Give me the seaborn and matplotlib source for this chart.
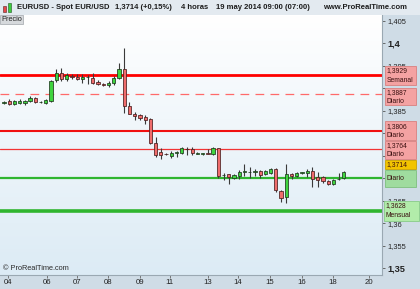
import numpy as np
import pandas as pd
import matplotlib
matplotlib.use("Agg")
import matplotlib.pyplot as plt
import seaborn as sns
from matplotlib.patches import Rectangle
from matplotlib.transforms import blended_transform_factory
from matplotlib.colors import LinearSegmentedColormap

# ---------------- data (4h candles EUR/USD) ----------------
opens = [1.3868, 1.3872, 1.3865, 1.3868, 1.3867, 1.3872, 1.3878, 1.3869, 1.3868, 1.3872,
         1.3918, 1.3933, 1.3920, 1.3927, 1.3926, 1.3920, 1.3925, 1.3924, 1.3914, 1.3910,
         1.3907, 1.3911, 1.3924, 1.3942, 1.3861, 1.3844, 1.3840, 1.3837, 1.3831, 1.3779,
         1.3759, 1.3754, 1.3750, 1.3757, 1.3756, 1.3766, 1.3764, 1.3755, 1.3754, 1.3756,
         1.3754, 1.3767, 1.3707, 1.3709, 1.3700, 1.3705, 1.3715, 1.3713, 1.3714, 1.3716,
         1.3710, 1.3712, 1.3720, 1.3671, 1.3659, 1.3709, 1.3704, 1.3712, 1.3711, 1.3716,
         1.3702, 1.3702, 1.3694, 1.3688, 1.3698, 1.3700]
highs = [1.3872, 1.3876, 1.3875, 1.3876, 1.3875, 1.3884, 1.3881, 1.3872, 1.3877, 1.3918,
         1.3943, 1.3945, 1.3934, 1.3932, 1.3931, 1.3932, 1.3930, 1.3935, 1.3918, 1.3911,
         1.3916, 1.3927, 1.3957, 1.3989, 1.3869, 1.3848, 1.3843, 1.3841, 1.3834, 1.3791,
         1.3767, 1.3756, 1.3760, 1.3760, 1.3770, 1.3770, 1.3769, 1.3758, 1.3756, 1.3764,
         1.3769, 1.3767, 1.3711, 1.3710, 1.3710, 1.3718, 1.3732, 1.3724, 1.3720, 1.3718,
         1.3718, 1.3723, 1.3722, 1.3674, 1.3732, 1.3711, 1.3714, 1.3714, 1.3720, 1.3724,
         1.3715, 1.3704, 1.3696, 1.3698, 1.3711, 1.3716]
lows = [1.3866, 1.3862, 1.3862, 1.3865, 1.3864, 1.3869, 1.3868, 1.3868, 1.3866, 1.3870,
        1.3914, 1.3916, 1.3916, 1.3921, 1.3918, 1.3912, 1.3910, 1.3910, 1.3907, 1.3906,
        1.3903, 1.3907, 1.3921, 1.3846, 1.3843, 1.3830, 1.3830, 1.3821, 1.3776, 1.3748,
        1.3742, 1.3751, 1.3746, 1.3747, 1.3753, 1.3752, 1.3752, 1.3753, 1.3752, 1.3753,
        1.3751, 1.3700, 1.3696, 1.3687, 1.3698, 1.3698, 1.3704, 1.3700, 1.3704, 1.3700,
        1.3707, 1.3710, 1.3670, 1.3648, 1.3646, 1.3698, 1.3702, 1.3709, 1.3703, 1.3681,
        1.3681, 1.3690, 1.3686, 1.3686, 1.3697, 1.3698]
closes = [1.3869, 1.3866, 1.3871, 1.3872, 1.3872, 1.3879, 1.3870, 1.3870, 1.3874, 1.3917,
          1.3934, 1.3920, 1.3929, 1.3926, 1.3921, 1.3926, 1.3925, 1.3912, 1.3910, 1.3908,
          1.3912, 1.3922, 1.3944, 1.3861, 1.3844, 1.3838, 1.3833, 1.3830, 1.3779, 1.3752,
          1.3752, 1.3753, 1.3757, 1.3757, 1.3767, 1.3764, 1.3756, 1.3756, 1.3754, 1.3755,
          1.3767, 1.3705, 1.3707, 1.3702, 1.3707, 1.3715, 1.3715, 1.3714, 1.3715, 1.3707,
          1.3716, 1.3720, 1.3673, 1.3657, 1.3710, 1.3705, 1.3712, 1.3712, 1.3716, 1.3699,
          1.3697, 1.3694, 1.3688, 1.3696, 1.3699, 1.3714]

day_tick_pos = [0.8, 8.2, 14.0, 19.9, 26.0, 31.7, 39.0, 44.8, 50.9, 57.0, 62.9, 69.8]
day_labels = ["04", "06", "07", "08", "09", "11", "13", "14", "15", "16", "18", "20"]

level_values = [1.3929, 1.3887, 1.3806, 1.3764, 1.3700, 1.3628]
level_names = ["Semanal", "Diario", "Diario", "Diario", "Diario", "Mensual"]
last_price = 1.3714
y_ticks = [1.35, 1.355, 1.36, 1.365, 1.37, 1.375, 1.38, 1.385, 1.39, 1.395, 1.40, 1.405]
hidden_ticks = [1.37, 1.375, 1.38, 1.39]   # covered by the level labels

df = pd.DataFrame({"open": opens, "high": highs, "low": lows, "close": closes})
df["x"] = np.arange(len(df))

# ---------------- figure ----------------
sns.set_theme(style="white")
plt.rcParams["font.family"] = ["Liberation Sans", "DejaVu Sans"]

W, H = 420, 289
fig = plt.figure(figsize=(W / 100, H / 100), dpi=100)
fig.patch.set_facecolor("#cfdce6")

# title bar
fig.patches.append(Rectangle((0, 1 - 15 / H), 1, 15 / H, transform=fig.transFigure,
                             facecolor="#e3eaf0", edgecolor="none", zorder=0))
# tiny candle icon
fig.patches.append(Rectangle((3 / W, 1 - 12 / H), 3 / W, 6 / H, transform=fig.transFigure,
                             facecolor="#e84848", edgecolor="#552222", lw=0.4, zorder=1))
fig.patches.append(Rectangle((8 / W, 1 - 12 / H), 3 / W, 9 / H, transform=fig.transFigure,
                             facecolor="#3ccc3c", edgecolor="#225522", lw=0.4, zorder=1))
ty = 1 - 7.5 / H
tkw = dict(fontsize=5.5, fontweight="bold", color="#1c1c1c", va="center", ha="left")
fig.text(17 / W, ty, "EURUSD - Spot EUR/USD", **tkw)
fig.text(115 / W, ty, "1,3714 (+0,15%)", **tkw)
fig.text(181 / W, ty, "4 horas", **tkw)
fig.text(216 / W, ty, "19 may 2014 09:00 (07:00)", **tkw)
fig.text(323 / W, ty, "www.ProRealTime.com", **tkw)

ax = fig.add_axes([0, 14 / H, 382 / W, 260 / H])
ax.set_facecolor("white")

# gradient background
grad = np.linspace(0, 1, 256).reshape(-1, 1)
cm = LinearSegmentedColormap.from_list("bg", ["#ffffff", "#dcebf5"])
ax.imshow(grad, cmap=cm, aspect="auto", extent=[0, 1, 0, 1], transform=ax.transAxes,
          zorder=0, origin="upper")

# horizontal levels
ax.axhline(level_values[0], color="#ff0000", lw=2.0, zorder=2)
ax.axhline(level_values[1], color="#ff6a6a", lw=0.9, ls=(0, (7, 5)), zorder=2)
ax.axhline(level_values[2], color="#f01010", lw=1.5, zorder=2)
ax.axhline(level_values[3], color="#f23434", lw=0.9, zorder=2)
ax.axhline(level_values[4], color="#2fb52f", lw=1.6, zorder=2)
ax.axhline(level_values[5], color="#2fb52f", lw=2.6, zorder=2)

# candles
up = df["close"] >= df["open"]
body_lo = np.minimum(df["open"], df["close"])
body_h = np.maximum(np.abs(df["close"] - df["open"]), 0.00012)
ax.vlines(df["x"], df["low"], df["high"], color="#3a3a3a", lw=0.8, zorder=3)
ax.bar(df["x"][up], body_h[up], bottom=body_lo[up], width=0.62, color="#3fd43f",
       edgecolor="#1f3a1f", linewidth=0.55, zorder=4)
ax.bar(df["x"][~up], body_h[~up], bottom=body_lo[~up], width=0.62, color="#ef6c6c",
       edgecolor="#4a1f1f", linewidth=0.55, zorder=4)

ax.set_xlim(-0.76, 72.3)
ax.set_ylim(1.3485, 1.4063)

# axes styling
for s in ["top", "left"]:
    ax.spines[s].set_visible(False)
for s in ["right", "bottom"]:
    ax.spines[s].set_color("#9aa8b2")
    ax.spines[s].set_linewidth(0.8)

ax.yaxis.tick_right()
ax.set_yticks(y_ticks)
ylabels = []
for v in y_ticks:
    if any(abs(v - h) < 1e-9 for h in hidden_ticks):
        ylabels.append("")
    else:
        ylabels.append(("%.3f" % v).rstrip("0").rstrip(".").replace(".", ","))
ax.set_yticklabels(ylabels)
for v, t in zip(y_ticks, ax.get_yticklabels()):
    if abs(v * 20 - round(v * 20)) < 1e-6:
        t.set_fontweight("bold")
        t.set_fontsize(6.6)
    else:
        t.set_fontsize(5.4)
    t.set_color("#222222")
ax.tick_params(axis="y", which="both", right=True, length=2.5, width=0.6, color="#555555", pad=1.5)

ax.set_xticks(day_tick_pos)
ax.set_xticklabels(day_labels, fontsize=5.6, color="#222222")
ax.tick_params(axis="x", bottom=True, length=2.0, width=0.6, color="#666666", pad=1.0)

# "Precio" label
ax.text(1 / 382, 1 - 1 / 260, "Precio", transform=ax.transAxes, fontsize=5.3, color="#222222",
        ha="left", va="top", zorder=6,
        bbox=dict(boxstyle="square,pad=0.2", facecolor="#d6d9dc", edgecolor="#a0a6ab", lw=0.5))
# watermark
ax.text(3 / 382, 3 / 260, "\u00a9 ProRealTime.com", transform=ax.transAxes, fontsize=5.3,
        color="#2a2a2a", ha="left", va="bottom", zorder=6)

# level labels on the right
bt = blended_transform_factory(ax.transAxes, ax.transData)
px_to_data = (1.4063 - 1.3485) / 260.0


def level_box(center, h_px, face, edge, lines, x0_px=385, w_px=31):
    h = h_px * px_to_data
    ax.add_patch(Rectangle((x0_px / 382, center - h / 2), w_px / 382, h, transform=bt,
                           facecolor=face, edgecolor=edge, lw=0.6, clip_on=False, zorder=7))
    n = len(lines)
    for i, txt in enumerate(lines):
        yc = center + h / 2 - (i + 0.5) * h / n
        ax.text((x0_px + 1.5) / 382, yc, txt, transform=bt, fontsize=4.9, color="#3a1010",
                ha="left", va="center", clip_on=False, zorder=8)


red_face, red_edge = "#f4a2a2", "#d98080"
level_box(level_values[0], 19, red_face, red_edge, ["1,3929", level_names[0]])
level_box(level_values[1] - 2.7 * px_to_data, 17, red_face, red_edge, ["1,3887", level_names[1]])
level_box(level_values[2] - 0.2 * px_to_data, 19, red_face, red_edge, ["1,3806", level_names[2]])
level_box(level_values[3] - 0.5 * px_to_data, 18, red_face, red_edge, ["1,3764", level_names[3]])
level_box(last_price + 7.6 * px_to_data, 8.5, "#f2c400", "#c9a200", ["1,3714"])
level_box(level_values[4], 17, "#9fdc9f", "#7fbf7f", [level_names[4]])
level_box(level_values[5], 20, "#b2ecaa", "#88cc88", ["1,3628", level_names[5]], x0_px=384, w_px=35)

fig.savefig("out.png", dpi=100, facecolor=fig.get_facecolor())
